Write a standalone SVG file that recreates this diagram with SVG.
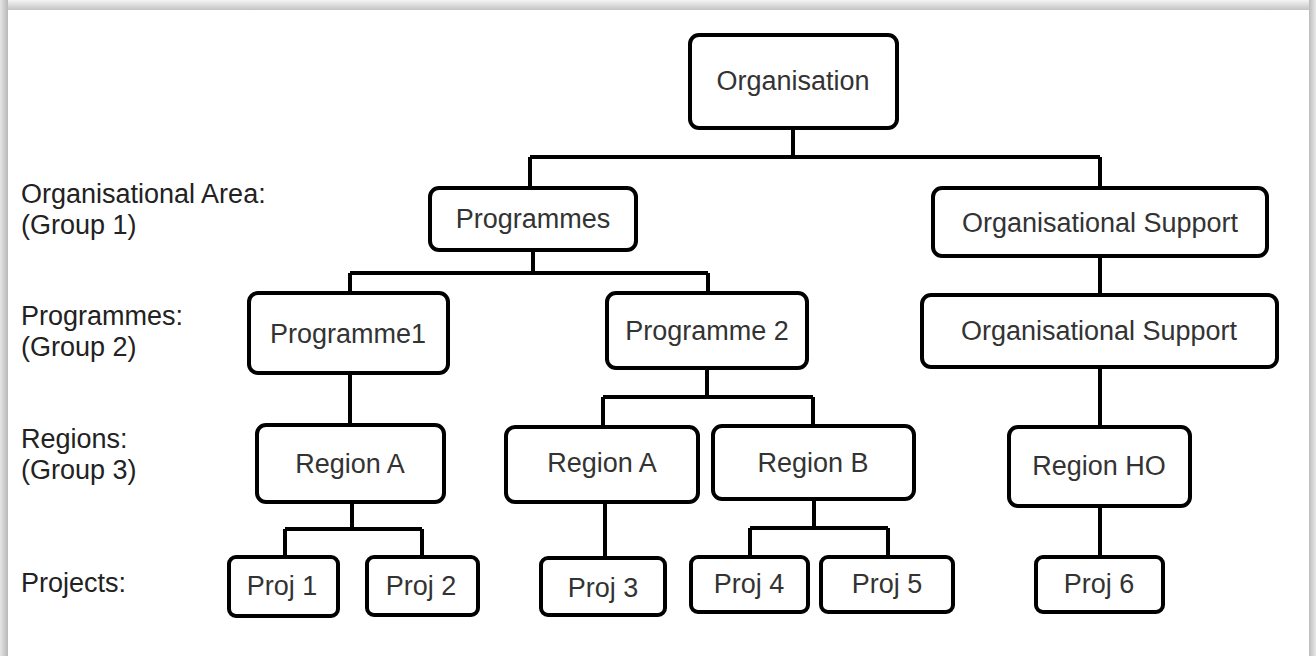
<svg xmlns="http://www.w3.org/2000/svg" width="1316" height="656" viewBox="0 0 1316 656">
<defs>
<linearGradient id="gTop" x1="0" y1="0" x2="0" y2="1"><stop offset="0" stop-color="#f4f4f4"/><stop offset="1" stop-color="#c4c4c4"/></linearGradient>
<linearGradient id="gLeft" x1="0" y1="0" x2="1" y2="0"><stop offset="0" stop-color="#e6e6e6"/><stop offset="1" stop-color="#b8b8b8"/></linearGradient>
<linearGradient id="gRight" x1="0" y1="0" x2="1" y2="0"><stop offset="0" stop-color="#bcbcbc"/><stop offset="1" stop-color="#e8e8e8"/></linearGradient>
</defs>
<style>
.box{fill:#fff;stroke:#000;stroke-width:4}
.t{font-family:"Liberation Sans",Arial,sans-serif;font-size:27px;fill:#333;text-anchor:middle}
.lbl{font-family:"Liberation Sans",Arial,sans-serif;font-size:27px;fill:#222}
.c{fill:none;stroke:#000;stroke-width:4;stroke-linejoin:miter}
</style>
<rect x="0" y="0" width="1316" height="656" fill="#fff"/>
<rect x="0" y="0" width="1316" height="10" fill="url(#gTop)"/>
<rect x="0" y="0" width="8" height="656" fill="url(#gLeft)"/>
<rect x="1309" y="0" width="7" height="656" fill="url(#gRight)"/>
<g id="labels">
<text class="lbl" x="21" y="203">Organisational Area:</text>
<text class="lbl" x="21" y="234">(Group 1)</text>
<text class="lbl" x="21" y="325">Programmes:</text>
<text class="lbl" x="21" y="356">(Group 2)</text>
<text class="lbl" x="21" y="448">Regions:</text>
<text class="lbl" x="21" y="479">(Group 3)</text>
<text class="lbl" x="21" y="592">Projects:</text>
</g>
<g id="connectors">
<path class="c" d="M793 128V157M530 157H1100M530 157V188M1100 157V188"/>
<path class="c" d="M533 250V273M350 273H708M350 273V293M708 273V293"/>
<path class="c" d="M1100 256V295M1100 367V427M1100 506V557"/>
<path class="c" d="M350 373V425M352 502V529M285 529H422M285 529V557M422 529V557"/>
<path class="c" d="M707 368V397M603 397H813M603 397V427M813 397V426"/>
<path class="c" d="M605 502V558"/>
<path class="c" d="M814 499V528M750 528H888M750 528V557M888 528V557"/>
</g>
<g id="n-organisation"><rect class="box" x="690" y="35" width="207" height="93" rx="9"/><text class="t" x="793" y="90">Organisation</text></g>
<g id="n-programmes"><rect class="box" x="430" y="188" width="206" height="62" rx="9"/><text class="t" x="533" y="228">Programmes</text></g>
<g id="n-orgsupport1"><rect class="box" x="933" y="188" width="334" height="68" rx="9"/><text class="t" x="1100" y="232">Organisational Support</text></g>
<g id="n-programme1"><rect class="box" x="249" y="293" width="199" height="80" rx="9"/><text class="t" x="348" y="343">Programme1</text></g>
<g id="n-programme2"><rect class="box" x="607" y="293" width="200" height="75" rx="9"/><text class="t" x="707" y="340">Programme 2</text></g>
<g id="n-orgsupport2"><rect class="box" x="922" y="295" width="355" height="72" rx="9"/><text class="t" x="1099" y="340">Organisational Support</text></g>
<g id="n-regionA1"><rect class="box" x="257" y="425" width="187" height="77" rx="9"/><text class="t" x="350" y="473">Region A</text></g>
<g id="n-regionA2"><rect class="box" x="506" y="427" width="192" height="75" rx="9"/><text class="t" x="602" y="472">Region A</text></g>
<g id="n-regionB"><rect class="box" x="713" y="426" width="201" height="73" rx="9"/><text class="t" x="813" y="472">Region B</text></g>
<g id="n-regionHO"><rect class="box" x="1009" y="427" width="181" height="79" rx="9"/><text class="t" x="1099" y="475">Region HO</text></g>
<g id="n-proj1"><rect class="box" x="229" y="557" width="109" height="59" rx="7"/><text class="t" x="282" y="595">Proj 1</text></g>
<g id="n-proj2"><rect class="box" x="367" y="557" width="111" height="58" rx="7"/><text class="t" x="421" y="595">Proj 2</text></g>
<g id="n-proj3"><rect class="box" x="541" y="558" width="124" height="57" rx="7"/><text class="t" x="603" y="597">Proj 3</text></g>
<g id="n-proj4"><rect class="box" x="691" y="557" width="117" height="55" rx="7"/><text class="t" x="749" y="593">Proj 4</text></g>
<g id="n-proj5"><rect class="box" x="821" y="557" width="132" height="55" rx="7"/><text class="t" x="887" y="593">Proj 5</text></g>
<g id="n-proj6"><rect class="box" x="1036" y="557" width="127" height="55" rx="7"/><text class="t" x="1099" y="593">Proj 6</text></g>
</svg>
